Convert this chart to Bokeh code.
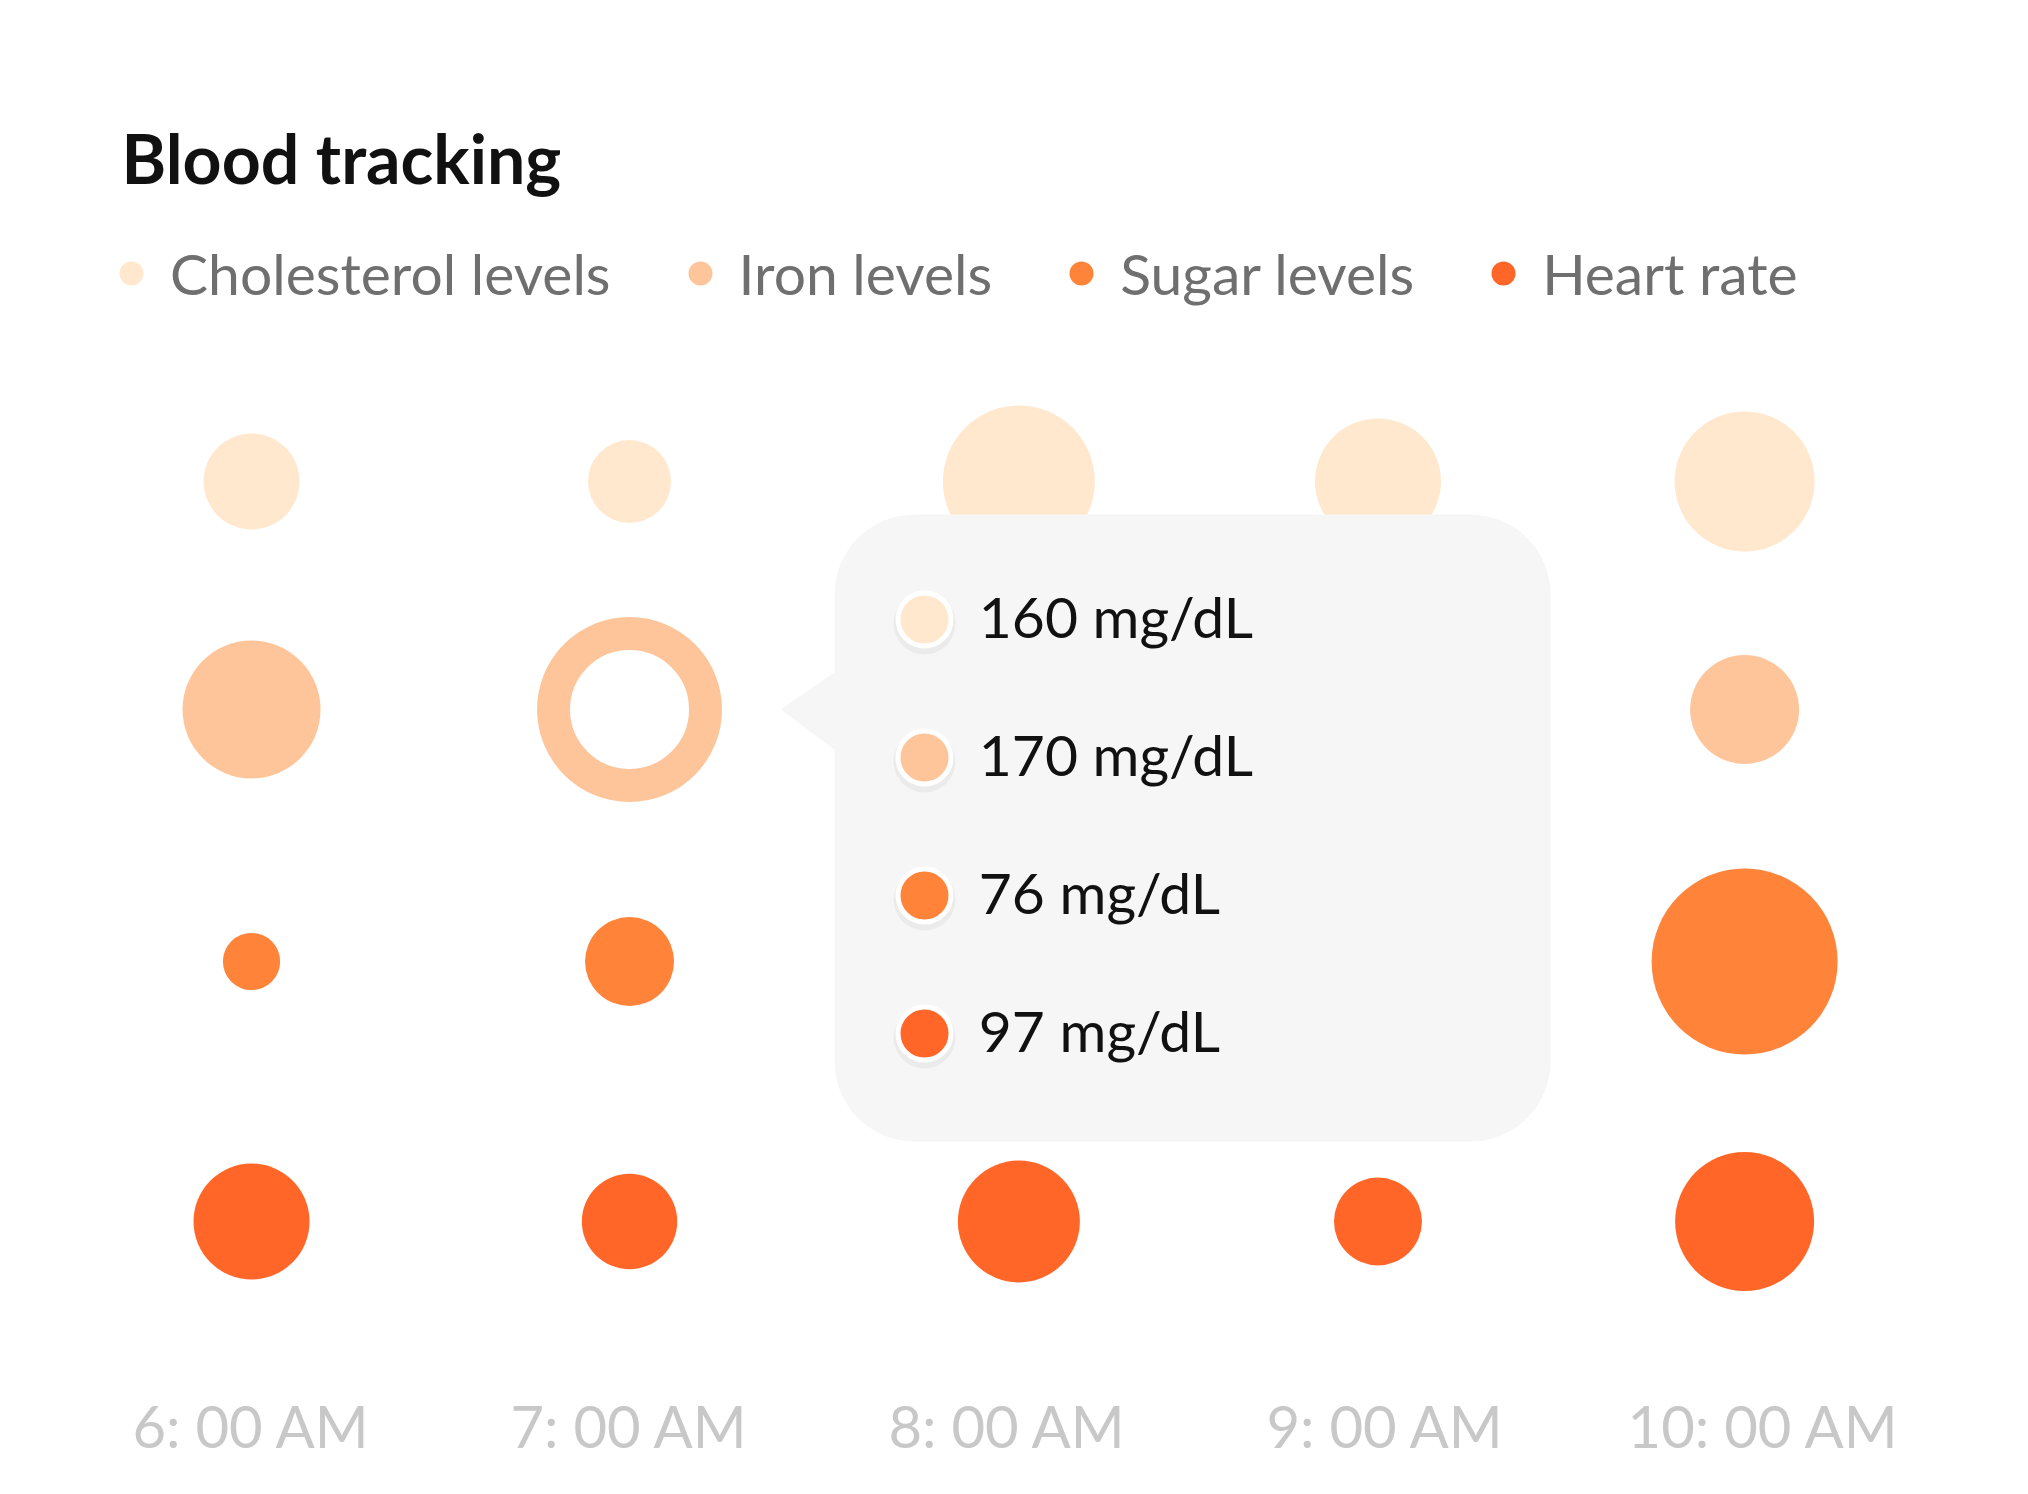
from bokeh.plotting import figure
from bokeh.models import Range1d, FixedTicker, Legend, LegendItem, BoxAnnotation
from bokeh.core.properties import value
from bokeh.embed import file_html
from bokeh.resources import INLINE

# ---------------- data ----------------
times = [6.0, 7.0, 8.03, 8.98, 9.95]          # reading times (hours)
tick_hours = [6, 7, 8, 9, 10]
tick_labels = ["6: 00 AM", "7: 00 AM", "8: 00 AM", "9: 00 AM", "10: 00 AM"]
series = ["Cholesterol levels", "Iron levels", "Sugar levels", "Heart rate"]
cholesterol = [48, 41.5, 76, 63, 70]
iron = [69, 60, 60, 50, 54.5]
sugar = [28.6, 44.5, 55, 45, 93]
heart = [58, 47.7, 61, 44, 69.5]
colors = ["#FFE8CD", "#FFC59A", "#FF843A", "#FF6628"]
hover_index = 1                                  # 7:00 AM is hovered
hover_series = 1                                 # iron row highlighted
hover_values = ["160 mg/dL", "170 mg/dL", "76 mg/dL", "97 mg/dL"]

# ---------------- layout constants ----------------
ROW_Y = [2.75, 5.03, 7.55, 10.15]
SIZE_SCALE = 2.0
FONT = "Lato"

p = figure(width=2012, height=1478, output_backend="svg", toolbar_location=None,
           x_range=Range1d(5.3359, 10.6587), y_range=Range1d(11.56, -0.08),
           y_axis_location=None, min_border_left=0, min_border_right=0,
           min_border_top=198, min_border_bottom=116)
p.outline_line_color = None
p.grid.visible = False
p.background_fill_color = "white"
p.border_fill_color = "white"

p.title.text = "Blood tracking"
p.title.text_font = FONT
p.title.text_font_style = "bold"
p.title.text_font_size = "68px"
p.title.text_color = "#111111"
p.title.align = "left"
p.title.offset = 121
p.title.standoff = 2

renderers = []
for vals, col, row in zip([cholesterol, iron, sugar, heart], colors, ROW_Y):
    r = p.scatter(x=times, y=[row] * len(times), size=[v * SIZE_SCALE for v in vals],
                  fill_color=col, line_color=None)
    renderers.append(r)

# hovered point ring
hx, hy = times[hover_index], ROW_Y[hover_series]
p.scatter(x=[hx], y=[hy], size=152, fill_color="white",
          line_color=colors[hover_series], line_width=33)

# tooltip
box = BoxAnnotation(left=hx + 0.5423, right=hx + 2.4365, top=hy - 1.95, bottom=hy + 4.32,
                    fill_color="#F6F6F6", fill_alpha=1, line_color=None, border_radius=80)
p.add_layout(box)
p.patch(x=[hx + 0.4048, hx + 0.5423, hx + 0.5423], y=[hy, hy - 0.36, hy + 0.39],
        fill_color="#F6F6F6", line_color="#F6F6F6", line_width=2, level="annotation")

tip_x = hx + 0.7804
tip_y = [hy - 0.90 + i * 1.38 for i in range(4)]
p.scatter(x=[tip_x] * 4, y=[y + 0.04 for y in tip_y], size=62, fill_color="#000000",
          fill_alpha=0.045, line_color=None, level="overlay")
p.scatter(x=[tip_x] * 4, y=tip_y, size=53, fill_color=colors, line_color="white",
          line_width=5, level="overlay")
p.text(x=[hx + 0.9240] * 4, y=[y - 0.04 for y in tip_y], text=hover_values,
       text_font=value(FONT), text_font_size="57px", text_color="#111111",
       text_baseline="middle", text_align="left", level="overlay")

# legend
legend = Legend(items=[LegendItem(label=s, renderers=[r]) for s, r in zip(series, renderers)],
                location=(101, 1055), orientation="horizontal",
                glyph_width=60, glyph_height=60, label_standoff=9, spacing=59,
                margin=0, padding=0, background_fill_alpha=0, border_line_alpha=0,
                label_text_font=FONT, label_text_font_size="57px",
                label_text_color="#6f6f6f")
p.add_layout(legend, "center")

# x axis
ax = p.xaxis[0]
ax.ticker = FixedTicker(ticks=tick_hours)
ax.major_label_overrides = {h: l for h, l in zip(tick_hours, tick_labels)}
ax.axis_line_color = None
ax.major_tick_line_color = None
ax.minor_tick_line_color = None
ax.major_label_text_font = FONT
ax.major_label_text_font_size = "58px"
ax.major_label_text_color = "#c8c8c8"
ax.major_label_standoff = 22

open("out.html", "w").write(file_html(p, INLINE))
